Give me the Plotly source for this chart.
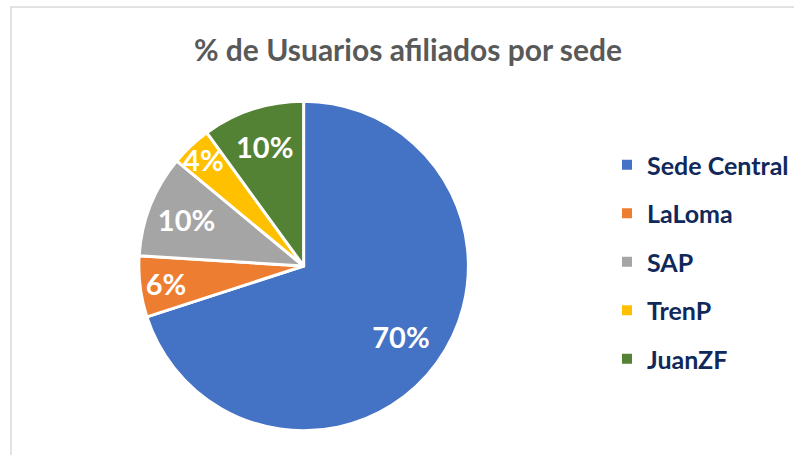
import plotly.graph_objects as go

categories = ["Sede Central", "LaLoma", "SAP", "TrenP", "JuanZF"]
values = [70, 6, 10, 4, 10]
colors = ["#4472C4", "#ED7D31", "#A5A5A5", "#FFC000", "#548235"]
title_text = "% de Usuarios afiliados por sede"

W, H = 794, 455
FONT = "Lato"
CX, CY, R = 304, 266, 165
dom = dict(x=[(CX - R) / W, (CX + R) / W], y=[(H - CY - R) / H, (H - CY + R) / H])

fig = go.Figure()
# filled slices
fig.add_trace(go.Pie(
    labels=categories, values=values, sort=False, direction="clockwise", rotation=0,
    marker=dict(colors=colors, line=dict(color="white", width=3)),
    textinfo="none", domain=dom, showlegend=False, hoverinfo="label+percent",
))
# percentage labels (ring positioning like Excel's data labels)
fig.add_trace(go.Pie(
    labels=categories, values=values, sort=False, direction="clockwise", rotation=0,
    hole=0.46,
    marker=dict(colors=["rgba(0,0,0,0)"] * len(categories), line=dict(width=0)),
    texttemplate="%{percent:.0%}", textposition="inside", insidetextorientation="horizontal",
    textfont=dict(family=FONT, size=29, color="white", weight="bold"),
    domain=dom, showlegend=False, hoverinfo="skip",
))

for name, col in zip(categories, colors):
    fig.add_trace(go.Scatter(
        x=[None], y=[None], mode="markers", name=name, legendgroup=name,
        marker=dict(symbol="square", size=10, color=col),
        showlegend=True,
    ))

fig.update_xaxes(visible=False)
fig.update_yaxes(visible=False)

fig.update_layout(
    width=W, height=H,
    margin=dict(l=0, r=0, t=0, b=0),
    paper_bgcolor="white", plot_bgcolor="white",
    uniformtext=dict(minsize=29, mode="show"),
    title=dict(text=title_text, x=408 / W, xanchor="center", y=1 - 50 / H, yanchor="middle",
               font=dict(family=FONT, size=30, color="#595959", weight="bold")),
    legend=dict(x=608 / W, xanchor="left", y=1 - 142 / H, yanchor="top",
                font=dict(family=FONT, size=25, color="#10285A", weight="bold"),
                tracegroupgap=13, itemwidth=30, bgcolor="rgba(0,0,0,0)"),
    shapes=[dict(type="rect", xref="paper", yref="paper",
                 x0=11 / W, x1=1.05, y0=-0.05, y1=1 - 7 / H,
                 line=dict(color="#D9D9D9", width=1.5), fillcolor="rgba(0,0,0,0)", layer="below")],
)

fig.write_html("out.html", config={"displayModeBar": False},
               post_script="document.body.style.margin='0px';")
